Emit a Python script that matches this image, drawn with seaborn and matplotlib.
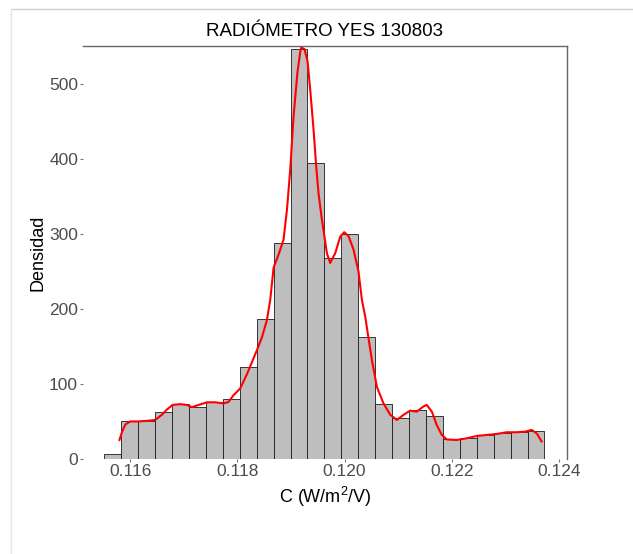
import numpy as np
import pandas as pd
import matplotlib
matplotlib.use("Agg")
import matplotlib.pyplot as plt
from matplotlib.lines import Line2D
import seaborn as sns

# histogram (density per bin), 26 bins
bin_start = 0.115515
bin_width = 0.000316
densidad = [7, 50, 50, 62, 73.5, 69.5, 76, 80, 122, 187, 287, 546, 394,
            267, 300, 162, 72.6, 55, 65, 56.6, 26, 28, 31.6, 35, 36, 37.4]

# kernel density curve
kde_x = [0.115795, 0.115845, 0.115907, 0.116000, 0.116155, 0.116341, 0.116466,
         0.116591, 0.116685, 0.116789, 0.116933, 0.117058, 0.117151, 0.117274,
         0.117431, 0.117586, 0.117741, 0.117834, 0.117927, 0.118052, 0.118177,
         0.118364, 0.118457, 0.118550, 0.118612, 0.118675, 0.118767, 0.118860,
         0.118924, 0.118985, 0.119047, 0.119120, 0.119172, 0.119190, 0.119250,
         0.119308, 0.119358, 0.119420, 0.119470, 0.119513, 0.119576, 0.119670,
         0.119731, 0.119825, 0.119918, 0.119993, 0.120073, 0.120166, 0.120259,
         0.120323, 0.120384, 0.120509, 0.120603, 0.120726, 0.120851, 0.120976,
         0.121099, 0.121224, 0.121349, 0.121472, 0.121535, 0.121629, 0.121722,
         0.121815, 0.121909, 0.122095, 0.122284, 0.122468, 0.122655, 0.122841,
         0.123028, 0.123213, 0.123369, 0.123494, 0.123588, 0.123681]
kde_y = [25, 36, 46, 50, 50, 51, 52,
         59, 66, 72, 73, 72, 69, 72,
         75.5, 75.5, 74, 76, 85, 94, 113,
         145, 162, 185, 212, 255, 272, 292,
         332, 385, 456, 515, 542, 548, 546,
         530, 492, 439, 390, 354, 319, 274,
         261, 274, 296, 302, 297, 279, 250,
         212, 190, 132, 96, 74, 59, 52,
         58.7, 64.4, 63, 70, 72, 63, 45,
         32, 26, 25.3, 27.6, 30.7, 32, 33.3,
         35.6, 35.6, 36.4, 38.7, 34, 23]

x_ticks = [0.116, 0.118, 0.120, 0.122, 0.124]
y_ticks = [0, 100, 200, 300, 400, 500]

sns.set_theme(style="white")
plt.rcParams["font.family"] = ["Liberation Sans", "DejaVu Sans"]
plt.rcParams["mathtext.fontset"] = "custom"
plt.rcParams["mathtext.rm"] = "Liberation Sans"
plt.rcParams["mathtext.it"] = "Liberation Sans:italic"

edges = (bin_start + bin_width * np.arange(len(densidad) + 1)).tolist()
centers = [(a + b) / 2 for a, b in zip(edges[:-1], edges[1:])]
hist_df = pd.DataFrame({"C": centers, "dens": densidad})
kde_df = pd.DataFrame({"C": kde_x, "dens": kde_y})

fig = plt.figure(figsize=(6.33, 5.54), dpi=100)
ax = fig.add_axes([0.131, 0.1715, 0.7643, 0.7455])

sns.histplot(data=hist_df, x="C", weights="dens", bins=edges, stat="count",
             color="#BEBEBE", alpha=1, edgecolor="#1a1a1a", linewidth=0.6, ax=ax)
sns.lineplot(data=kde_df, x="C", y="dens", color="red", linewidth=1.5, ax=ax)

ax.set_xlim(0.115115, 0.124147)
ax.set_ylim(0, 550)
ax.set_xticks(x_ticks)
ax.set_xticklabels([f"{t:.3f}" for t in x_ticks])
ax.set_yticks(y_ticks)

for s in ["left", "bottom"]:
    ax.spines[s].set_visible(False)
for s in ["top", "right"]:
    ax.spines[s].set_color("#666666")
    ax.spines[s].set_linewidth(1.0)

ax.tick_params(axis="both", which="major", length=2, width=0.8, color="#777777",
               labelsize=12.5, labelcolor="#4d4d4d", pad=1.5, bottom=True, left=True)

ax.set_title("RADIÓMETRO YES 130803", fontsize=13.5, color="black", pad=7)
ax.set_xlabel(r"C (W/m$^\mathrm{2}$/V)", fontsize=13, color="black", labelpad=4)
ax.set_ylabel("Densidad", fontsize=13, color="black", labelpad=2)

# thin screenshot frame
fig.add_artist(Line2D([0.017, 1.0], [0.984, 0.984], color="#d0d0d0", linewidth=1))
fig.add_artist(Line2D([0.017, 0.017], [0.0, 0.984], color="#e6e6e6", linewidth=1))

fig.savefig("out.png", dpi=100)
